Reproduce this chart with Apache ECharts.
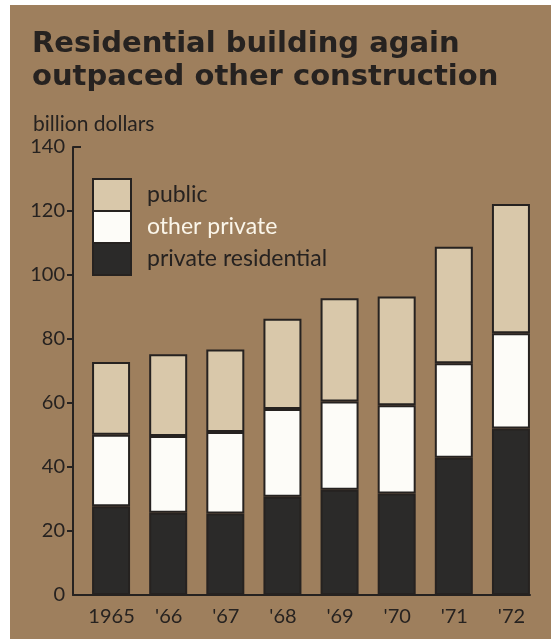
<!DOCTYPE html>
<html>
<head>
<meta charset="utf-8">
<script src="https://cdn.jsdelivr.net/npm/echarts@6/dist/echarts.min.js"></script>
<style>
  html, body { margin: 0; padding: 0; background: #ffffff; }
  #panel { position: absolute; left: 10px; top: 5px; width: 541px; height: 634px; background: #9e7f5d; }
  #chart { width: 541px; height: 634px; }
</style>
</head>
<body>
<div id="panel"><div id="chart"></div></div>
<script>
// Construction spending, billion dollars
const years = ['1965', "'66", "'67", "'68", "'69", "'70", "'71", "'72"];
const privateResidential = [27.7, 25.7, 25.5, 30.7, 32.9, 31.7, 42.9, 52.0];
const otherPrivate = [22.4, 24.0, 25.4, 27.4, 27.6, 27.6, 29.5, 29.8];
const publicWork = [22.7, 25.5, 25.8, 28.2, 32.2, 34.0, 36.4, 40.4];
const yTicks = [0, 20, 40, 60, 80, 100, 120, 140];

const ink = '#262220';
const colors = { residential: '#2b2a29', other: '#fdfcf8', pub: '#d9c8aa' };
const textFont = 'Lato';

const chart = echarts.init(document.getElementById('chart'));

function stackSeries(name, data, color) {
  return {
    name: name,
    type: 'bar',
    stack: 'total',
    barWidth: 38,
    data: data,
    itemStyle: { color: color, borderColor: ink, borderWidth: 2 }
  };
}

chart.setOption({
  animation: false,
  backgroundColor: 'transparent',
  title: [
    {
      text: 'Residential building again\noutpaced other construction',
      left: 17,
      top: 18,
      textStyle: { fontFamily: 'DejaVu Sans', fontWeight: 'bold', fontSize: 29, lineHeight: 33, color: ink }
    },
    {
      text: 'billion dollars',
      left: 18,
      top: 104,
      textStyle: { fontFamily: textFont, fontWeight: 'normal', fontSize: 21, color: ink }
    }
  ],
  legend: {
    orient: 'vertical',
    left: 82,
    top: 173,
    padding: 0,
    itemWidth: 38,
    itemHeight: 32,
    itemGap: -2,
    icon: 'rect',
    selectedMode: false,
    itemStyle: { borderColor: ink, borderWidth: 2 },
    textStyle: { fontFamily: textFont, fontSize: 23, color: ink, padding: [0, 0, 0, 11] },
    data: [
      { name: 'public' },
      { name: 'other private', textStyle: { color: '#fbf6ea' } },
      { name: 'private residential' }
    ]
  },
  grid: { left: 63, right: 21, top: 142, bottom: 44 },
  xAxis: {
    type: 'category',
    data: years,
    axisLine: { lineStyle: { color: ink, width: 2 } },
    axisTick: { show: false },
    axisLabel: { interval: 0, fontFamily: textFont, fontSize: 20, color: ink, margin: 12, padding: [0, 0, 0, 20] }
  },
  yAxis: [
    {
      type: 'value',
      min: 0,
      max: 140,
      interval: 20,
      splitLine: { show: false },
      axisLine: { show: true, lineStyle: { color: ink, width: 2 } },
      axisTick: { show: true, length: 6, lineStyle: { color: ink, width: 2 }, customValues: yTicks.slice(1, 7) },
      axisLabel: { fontFamily: textFont, fontSize: 20, color: ink, margin: 8, customValues: yTicks }
    },
    {
      type: 'value',
      min: 0,
      max: 140,
      interval: 20,
      position: 'left',
      splitLine: { show: false },
      axisLine: { show: false },
      axisTick: { show: true, inside: true, length: 8, lineStyle: { color: ink, width: 2 }, customValues: [yTicks[7]] },
      axisLabel: { show: false }
    }
  ],
  series: [
    // empty column that keeps each stack against the right edge of its band
    { name: 'gap', type: 'bar', barWidth: 19, barGap: 0, data: years.map(() => '-'), silent: true, itemStyle: { opacity: 0 } },
    stackSeries('private residential', privateResidential, colors.residential),
    stackSeries('other private', otherPrivate, colors.other),
    stackSeries('public', publicWork, colors.pub)
  ]
});
</script>
</body>
</html>
